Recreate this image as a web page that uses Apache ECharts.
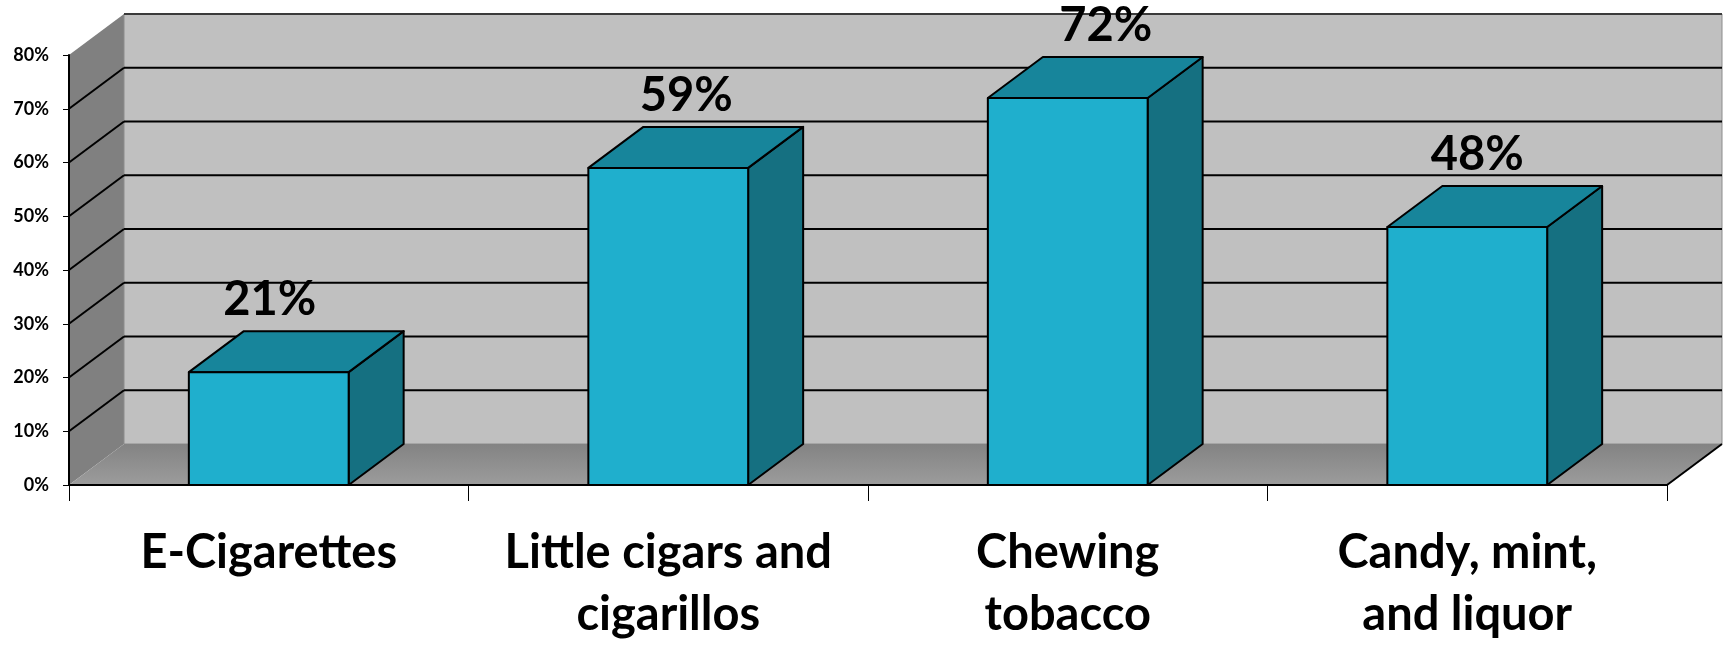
<!DOCTYPE html>
<html>
<head>
<meta charset="utf-8">
<script src="https://cdn.jsdelivr.net/npm/echarts@6/dist/echarts.min.js"></script>
<style>
  html, body { margin: 0; padding: 0; background: #ffffff; }
  #chart { width: 1725px; height: 646px; }
</style>
</head>
<body>
<div id="chart"></div>
<script>
// data
const categories = ['E-Cigarettes', 'Little cigars and\ncigarillos', 'Chewing\ntobacco', 'Candy, mint,\nand liquor']
const percents = [21, 59, 72, 48]
const yTicks = [0, 10, 20, 30, 40, 50, 60, 70, 80]

// 3d look: depth offset of the box in px, bar share of the band
const DX = 55
const DY = -41
const BAR_RATIO = 0.4
const labelNudge = [1, 18, 38, 10]
const FONT = 'Lato, "Open Sans", sans-serif'

const chart = echarts.init(document.getElementById('chart'))

function renderWalls(params, api) {
  const cs = params.coordSys
  const x0 = cs.x
  const x1 = cs.x + cs.width
  const yBase = api.coord([0, 0])[1]
  const yTop = api.coord([0, yTicks[yTicks.length - 1]])[1]
  const children = [
    {
      type: 'polygon',
      shape: { points: [[x0, yBase], [x0, yTop], [x0 + DX, yTop + DY], [x0 + DX, yBase + DY]] },
      style: { fill: '#808080' }
    },
    {
      type: 'rect',
      shape: { x: x0 + DX, y: yTop + DY, width: x1 - x0, height: yBase - yTop },
      style: { fill: '#c0c0c0', stroke: '#8c8c8c', lineWidth: 1 }
    },
    {
      type: 'polygon',
      shape: { points: [[x0, yBase], [x1, yBase], [x1 + DX, yBase + DY], [x0 + DX, yBase + DY]] },
      style: {
        fill: new echarts.graphic.LinearGradient(0, 0, 0, 1, [
          { offset: 0, color: '#838383' },
          { offset: 1, color: '#9c9c9c' }
        ])
      }
    }
  ]
  yTicks.forEach(v => {
    if (v === 0) return
    const y = api.coord([0, v])[1]
    const top = v === yTicks[yTicks.length - 1]
    children.push({
      type: 'line',
      shape: { x1: x0 + DX, y1: y + DY, x2: x1 + DX, y2: y + DY },
      style: { stroke: top ? '#3a3a3a' : '#000000', lineWidth: 2 }
    })
    if (!top) {
      children.push({
        type: 'line',
        shape: { x1: x0, y1: y, x2: x0 + DX, y2: y + DY },
        style: { stroke: '#000000', lineWidth: 2 }
      })
    }
  })
  children.push({
    type: 'line',
    shape: { x1: x1, y1: yBase, x2: x1 + DX, y2: yBase + DY },
    style: { stroke: '#000000', lineWidth: 2 }
  })
  return { type: 'group', children }
}

function renderBar(params, api) {
  const i = api.value(0)
  const v = api.value(1)
  const top = api.coord([i, v])
  const base = api.coord([i, 0])
  const w = api.size([1, 0])[0] * BAR_RATIO
  const l = top[0] - w / 2
  const r = top[0] + w / 2
  const edge = { stroke: '#000000', lineWidth: 2, lineJoin: 'round' }
  return {
    type: 'group',
    children: [
      {
        type: 'polygon',
        shape: { points: [[r, top[1]], [r + DX, top[1] + DY], [r + DX, base[1] + DY], [r, base[1]]] },
        style: Object.assign({ fill: '#157081' }, edge)
      },
      {
        type: 'polygon',
        shape: { points: [[l, top[1]], [r, top[1]], [r + DX, top[1] + DY], [l + DX, top[1] + DY]] },
        style: Object.assign({ fill: '#17859b' }, edge)
      },
      {
        type: 'rect',
        shape: { x: l, y: top[1], width: w, height: base[1] - top[1] },
        style: Object.assign({ fill: '#1fafcd' }, edge)
      },
      {
        type: 'text',
        x: top[0] + labelNudge[params.dataIndex],
        y: top[1] + DY - 31,
        style: {
          text: v + '%',
          fill: '#000000',
          font: 'bold 47px ' + FONT,
          align: 'center',
          verticalAlign: 'middle'
        }
      }
    ]
  }
}

chart.setOption({
  backgroundColor: '#ffffff',
  animation: false,
  grid: {
    left: 69,
    right: 58,
    top: 55,
    bottom: 159
  },
  xAxis: {
    type: 'category',
    data: categories,
    z: 10,
    axisLine: { lineStyle: { color: '#000000', width: 2 } },
    axisTick: { show: true, length: 16, lineStyle: { color: '#000000', width: 1 } },
    axisLabel: {
      color: '#000000',
      fontFamily: FONT,
      fontWeight: 'bold',
      fontSize: 47,
      lineHeight: 62,
      margin: 37,
      interval: 0
    },
    splitLine: { show: false }
  },
  yAxis: {
    type: 'value',
    min: 0,
    max: 80,
    interval: 10,
    z: 10,
    axisLine: { show: true, lineStyle: { color: '#000000', width: 2 } },
    axisTick: { show: true, length: 6, lineStyle: { color: '#000000' } },
    axisLabel: {
      formatter: '{value}%',
      color: '#000000',
      fontFamily: FONT,
      fontWeight: 'bold',
      fontSize: 18,
      margin: 20
    },
    splitLine: { show: false }
  },
  series: [
    {
      type: 'custom',
      renderItem: renderWalls,
      data: [[0, 0]],
      silent: true,
      z: 1
    },
    {
      type: 'custom',
      renderItem: renderBar,
      data: percents.map((v, i) => [i, v]),
      z: 2
    }
  ]
})
</script>
</body>
</html>
